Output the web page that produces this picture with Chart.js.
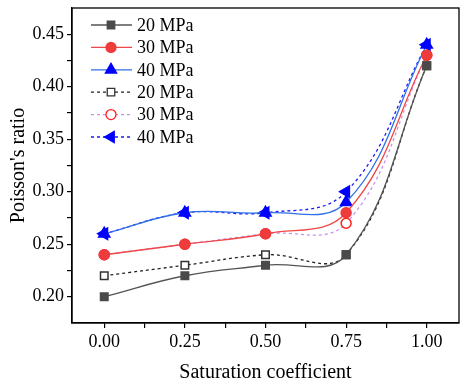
<!DOCTYPE html>
<html>
<head>
<meta charset="utf-8">
<script src="https://cdn.jsdelivr.net/npm/chart.js@4/dist/chart.umd.min.js"></script>
<style>
    html, body { margin: 0; padding: 0; background: #fff; }
    #wrap { width: 462px; height: 382px; }
</style>
</head>
<body>
<div id="wrap"><canvas id="poissonChart"></canvas></div>
<script>
// saturation coefficient on the x axis
const saturation = [0, 0.25, 0.5, 0.75, 1.0];

// Poisson's ratio, solid lines
const solid20 = [0.20, 0.22, 0.23, 0.24, 0.42];
const solid30 = [0.24, 0.25, 0.26, 0.28, 0.43];
const solid40 = [0.26, 0.28, 0.28, 0.29, 0.44];

// Poisson's ratio, dotted lines
const dotted20 = [0.22, 0.23, 0.24, 0.24, 0.42];
const dotted30 = [0.24, 0.25, 0.26, 0.27, 0.43];
const dotted40 = [0.26, 0.28, 0.28, 0.30, 0.44];

const seriesNames = ['20 MPa', '30 MPa', '40 MPa', '20 MPa', '30 MPa', '40 MPa'];

const xTicks = [0, 0.125, 0.25, 0.375, 0.5, 0.625, 0.75, 0.875, 1.0];
const yTicks = [0.2, 0.225, 0.25, 0.275, 0.3, 0.325, 0.35, 0.375, 0.4, 0.425, 0.45];
const xLabels = [0, 0.25, 0.5, 0.75, 1.0];
const yLabels = [0.2, 0.25, 0.3, 0.35, 0.4, 0.45];

const toPoints = (ys) => ys.map((y, i) => ({ x: saturation[i], y: y }));
const isLabel = (v, list) => list.some(l => Math.abs(l - v) < 1e-6);

function makeSet(label, values, line, dash, style, rot, radius, fill, edge) {
    return {
        label: label,
        data: toPoints(values),
        showLine: true,
        borderColor: line,
        borderWidth: 1.3,
        borderDash: dash,
        tension: 0.4,
        pointStyle: style,
        pointRotation: rot,
        pointRadius: radius,
        pointHoverRadius: radius,
        pointBackgroundColor: fill,
        pointBorderColor: edge,
        pointBorderWidth: 1.5
    };
}

const datasets = [
    makeSet(seriesNames[0], solid20, '#555555', [], 'rect', 0, 5.3, '#4a4a4a', '#4a4a4a'),
    makeSet(seriesNames[1], solid30, '#f04848', [], 'circle', 0, 5, '#ee3b3b', '#ee3b3b'),
    makeSet(seriesNames[2], solid40, '#2f6fe8', [], 'triangle', 0, 6.5, '#0000ff', '#0000ff'),
    makeSet(seriesNames[3], dotted20, '#222222', [3, 3], 'rect', 0, 5.3, '#ffffff', '#333333'),
    makeSet(seriesNames[4], dotted30, '#c98ff0', [3, 3], 'circle', 0, 5, '#ffffff', '#ff2020'),
    makeSet(seriesNames[5], dotted40, '#1a1aff', [3, 3], 'triangle', -90, 6.5, '#0000ff', '#0000ff')
];

// box round the plot and the legend in the upper left
const framePlugin = {
    id: 'frame',
    afterDraw(chart) {
        const ctx = chart.ctx;
        const a = chart.chartArea;
        ctx.save();
        ctx.strokeStyle = '#000';
        ctx.lineWidth = 1.3;
        ctx.strokeRect(a.left, a.top, a.right - a.left, a.bottom - a.top);

        chart.data.datasets.forEach((ds, i) => {
            const y = 25 + i * 22.4;
            ctx.beginPath();
            ctx.setLineDash(ds.borderDash);
            ctx.strokeStyle = ds.borderColor;
            ctx.lineWidth = ds.borderWidth;
            ctx.moveTo(91, y);
            ctx.lineTo(132, y);
            ctx.stroke();
            ctx.setLineDash([]);
            ctx.fillStyle = ds.pointBackgroundColor;
            ctx.strokeStyle = ds.pointBorderColor;
            Chart.helpers.drawPoint(ctx, {
                pointStyle: ds.pointStyle,
                rotation: ds.pointRotation,
                radius: ds.pointRadius,
                borderWidth: ds.pointBorderWidth
            }, 111, y);
            ctx.fillStyle = '#000';
            ctx.font = '18px "Liberation Serif"';
            ctx.textBaseline = 'middle';
            ctx.fillText(ds.label, 137, y + 1);
        });
        ctx.restore();
    }
};

const ctx = document.getElementById('poissonChart').getContext('2d');
new Chart(ctx, {
    type: 'scatter',
    data: { datasets: datasets },
    plugins: [framePlugin],
    options: {
        responsive: true,
        maintainAspectRatio: false,
        animation: false,
        layout: { autoPadding: false, padding: { top: 8, right: 3, left: 0, bottom: 0 } },
        plugins: {
            legend: { display: false },
            tooltip: { enabled: false }
        },
        scales: {
            x: {
                type: 'linear',
                min: -0.1,
                max: 1.1,
                afterBuildTicks: (scale) => { scale.ticks = xTicks.map(v => ({ value: v })); },
                afterFit: (scale) => {
                    scale.height = 59;
                    scale.paddingLeft = 0;
                    scale.paddingRight = 0;
                },
                grid: { drawOnChartArea: false, tickLength: 5, color: '#000', lineWidth: 1.2 },
                border: { color: '#000', width: 1.3 },
                ticks: {
                    autoSkip: false,
                    maxRotation: 0,
                    padding: 3,
                    color: '#000',
                    font: { family: 'Liberation Serif', size: 18 },
                    callback: (v) => isLabel(v, xLabels) ? v.toFixed(2) : ''
                },
                title: {
                    display: true,
                    text: 'Saturation coefficient',
                    color: '#000',
                    font: { family: 'Liberation Serif', size: 20 },
                    padding: { top: 8, bottom: -3 }
                }
            },
            y: {
                type: 'linear',
                min: 0.175,
                max: 0.475,
                afterBuildTicks: (scale) => { scale.ticks = yTicks.map(v => ({ value: v })); },
                afterFit: (scale) => {
                    scale.width = 72;
                    scale.paddingTop = 0;
                    scale.paddingBottom = 0;
                },
                grid: { drawOnChartArea: false, tickLength: 5, color: '#000', lineWidth: 1.2 },
                border: { color: '#000', width: 1.3 },
                ticks: {
                    autoSkip: false,
                    padding: 3,
                    color: '#000',
                    font: { family: 'Liberation Serif', size: 18 },
                    callback: (v) => isLabel(v, yLabels) ? v.toFixed(2) : ''
                },
                title: {
                    display: true,
                    text: "Poisson's ratio",
                    color: '#000',
                    font: { family: 'Liberation Serif', size: 20 },
                    padding: { top: 7, bottom: 0 }
                }
            }
        }
    }
});
</script>
</body>
</html>
